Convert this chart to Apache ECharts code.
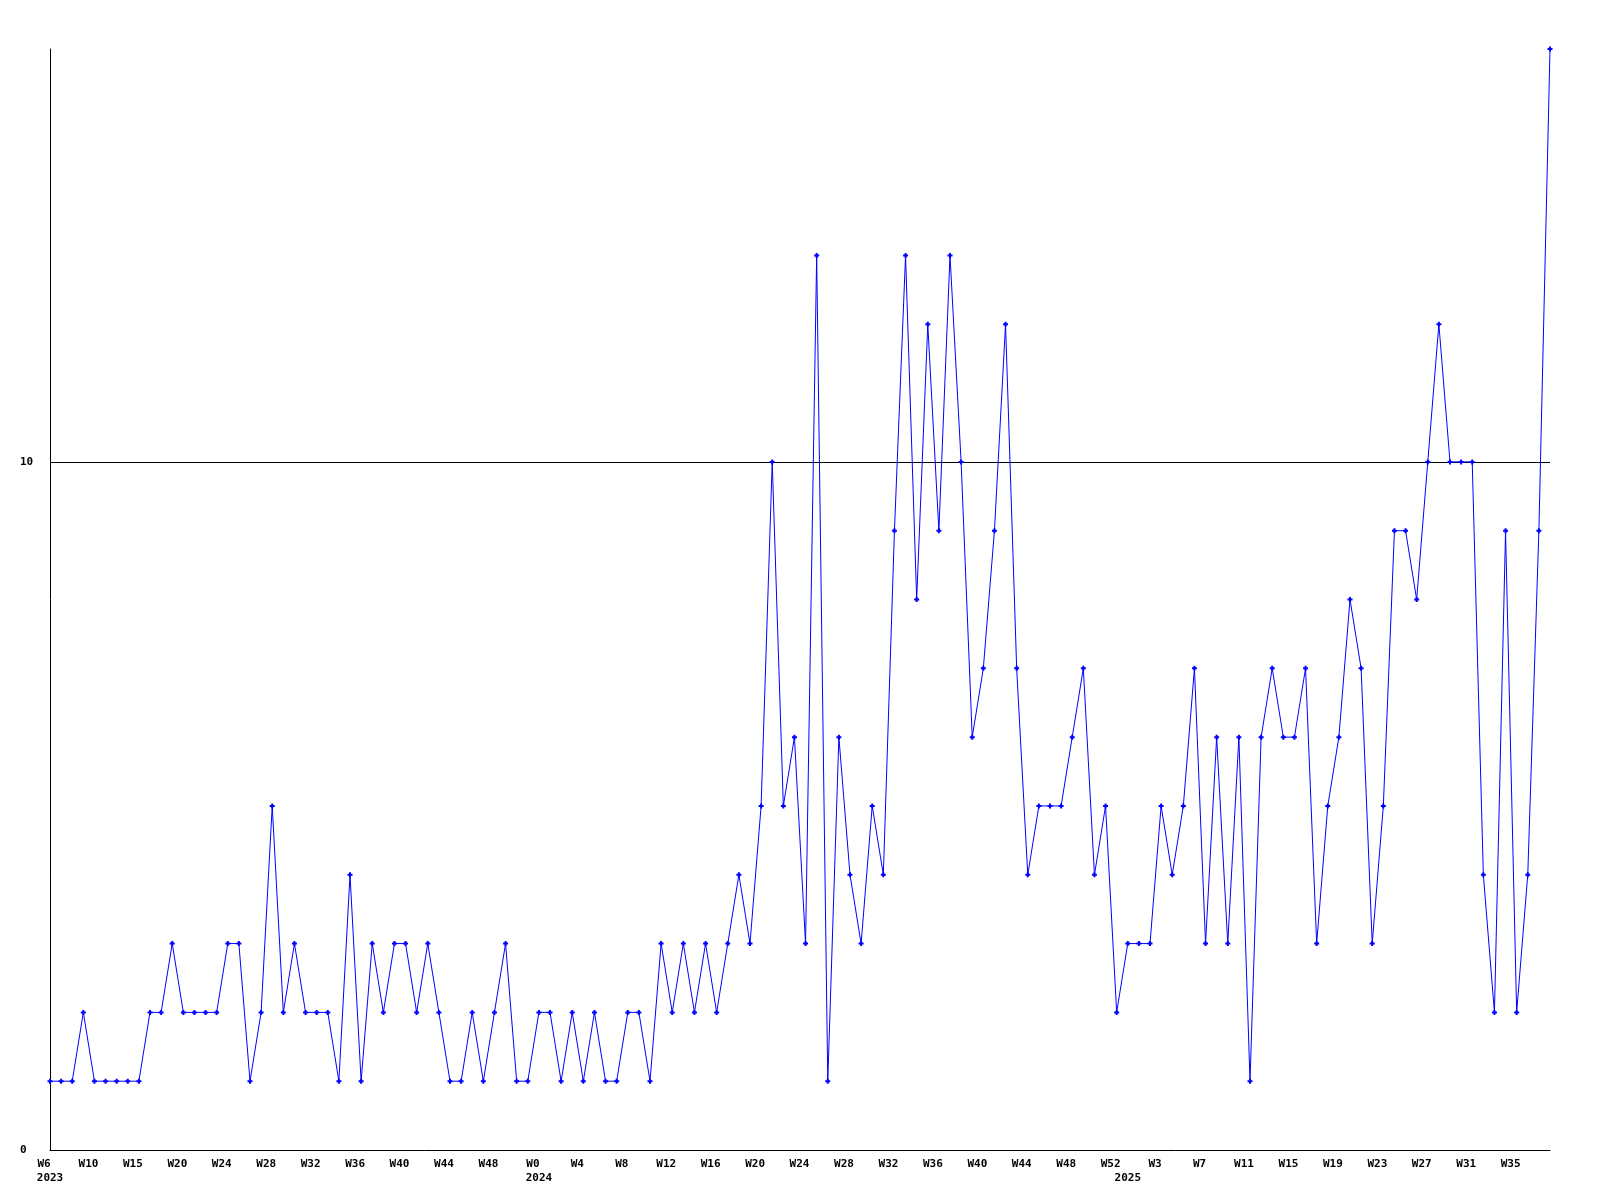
<!DOCTYPE html>
<html>
<head>
<meta charset="utf-8">
<script src="https://cdn.jsdelivr.net/npm/echarts@6/dist/echarts.min.js"></script>
<style>
html,body{margin:0;padding:0;background:#fff;}
#chart{width:1600px;height:1200px;}
</style>
</head>
<body>
<div id="chart"></div>
<script>
// Weekly values, one per week (136 weeks, W6 2023 .. W37 2025)
const values = [
  1,1,1,2,1,1,1,1,1,2, 2,3,2,2,2,2,3,3,1,2,
  5,2,3,2,2,2,1,4,1,3, 2,3,3,2,3,2,1,1,2,1,
  2,3,1,1,2,2,1,2,1,2, 1,1,2,2,1,3,2,3,2,3,
  2,3,4,3,5,10,5,6,3,13, 1,6,4,3,5,4,9,13,8,12,
  9,13,10,6,7,9,12,7,4,5, 5,5,6,7,4,5,2,3,3,3,
  5,4,5,7,3,6,3,6,1,6, 7,6,6,7,3,5,6,8,7,3,
  5,9,9,8,10,12,10,10,10,4, 2,9,2,4,9,16
];
const categories = values.map((_, i) => String(i));

// Tick labels: category index, week text, year text
const tickPositions = [0,4,8,12,16,20,24,28,32,36,40,44,48,52,56,60,64,68,72,76,80,84,88,92,96,97,100,104,108,112,116,120,124,128,132];
const tickWeeks = ['W6','W10','W15','W20','W24','W28','W32','W36','W40','W44','W48','W0','W4','W8','W12','W16','W20','W24','W28','W32','W36','W40','W44','W48','W52','','W3','W7','W11','W15','W19','W23','W27','W31','W35'];
const tickYears = ['2023','','','','','','','','','','','2024','','','','','','','','','','','','','','2025','','','','','','','','',''];

const yMin = 0, yMax = 16, yInterval = 10;
const refLineValue = 10;

const chart = echarts.init(document.getElementById('chart'), null, {renderer: 'canvas'});
const font = '"DejaVu Sans Mono", monospace';

chart.setOption({
  animation: false,
  backgroundColor: '#ffffff',
  grid: {left: 50, right: 50, top: 49, bottom: 50, containLabel: false},
  xAxis: {
    type: 'category',
    data: categories,
    boundaryGap: false,
    axisLine: {show: true, lineStyle: {color: '#000', width: 1}},
    axisTick: {show: false},
    splitLine: {show: false},
    axisLabel: {
      interval: 0,
      margin: 7,
      align: 'center',
      verticalAlign: 'top',
      formatter: function (val, idx) {
        const k = tickPositions.indexOf(idx);
        if (k < 0) return '';
        let s = '{w|' + (tickWeeks[k] || ' ') + '}';
        if (tickYears[k]) s += '\n{y|' + tickYears[k] + '}';
        return s;
      },
      rich: {
        w: {fontFamily: font, fontWeight: 'bold', fontSize: 11, color: '#000', lineHeight: 14, padding: [0, 12, 0, 0]},
        y: {fontFamily: font, fontWeight: 'bold', fontSize: 11, color: '#000', lineHeight: 14}
      }
    }
  },
  yAxis: {
    type: 'value',
    min: yMin,
    max: yMax,
    interval: yInterval,
    axisLine: {show: true, lineStyle: {color: '#000', width: 1}},
    axisTick: {show: false},
    splitLine: {show: false},
    axisLabel: {
      showMaxLabel: false,
      align: 'left',
      margin: 30,
      fontFamily: font,
      fontWeight: 'bold',
      fontSize: 11,
      color: '#000'
    }
  },
  series: [{
    type: 'line',
    data: values,
    symbol: 'path://M1.5,0H3.5V1.5H5V3.5H3.5V5H1.5V3.5H0V1.5H1.5Z',
    symbolSize: 5,
    showAllSymbol: true,
    lineStyle: {color: '#0000ff', width: 1},
    itemStyle: {color: '#0000ff'},
    z: 3,
    markLine: {
      silent: true,
      symbol: ['none', 'none'],
      label: {show: false},
      lineStyle: {color: '#000', width: 1, type: 'solid'},
      data: [{yAxis: refLineValue}],
      z: 1
    }
  }]
});
</script>
</body>
</html>
